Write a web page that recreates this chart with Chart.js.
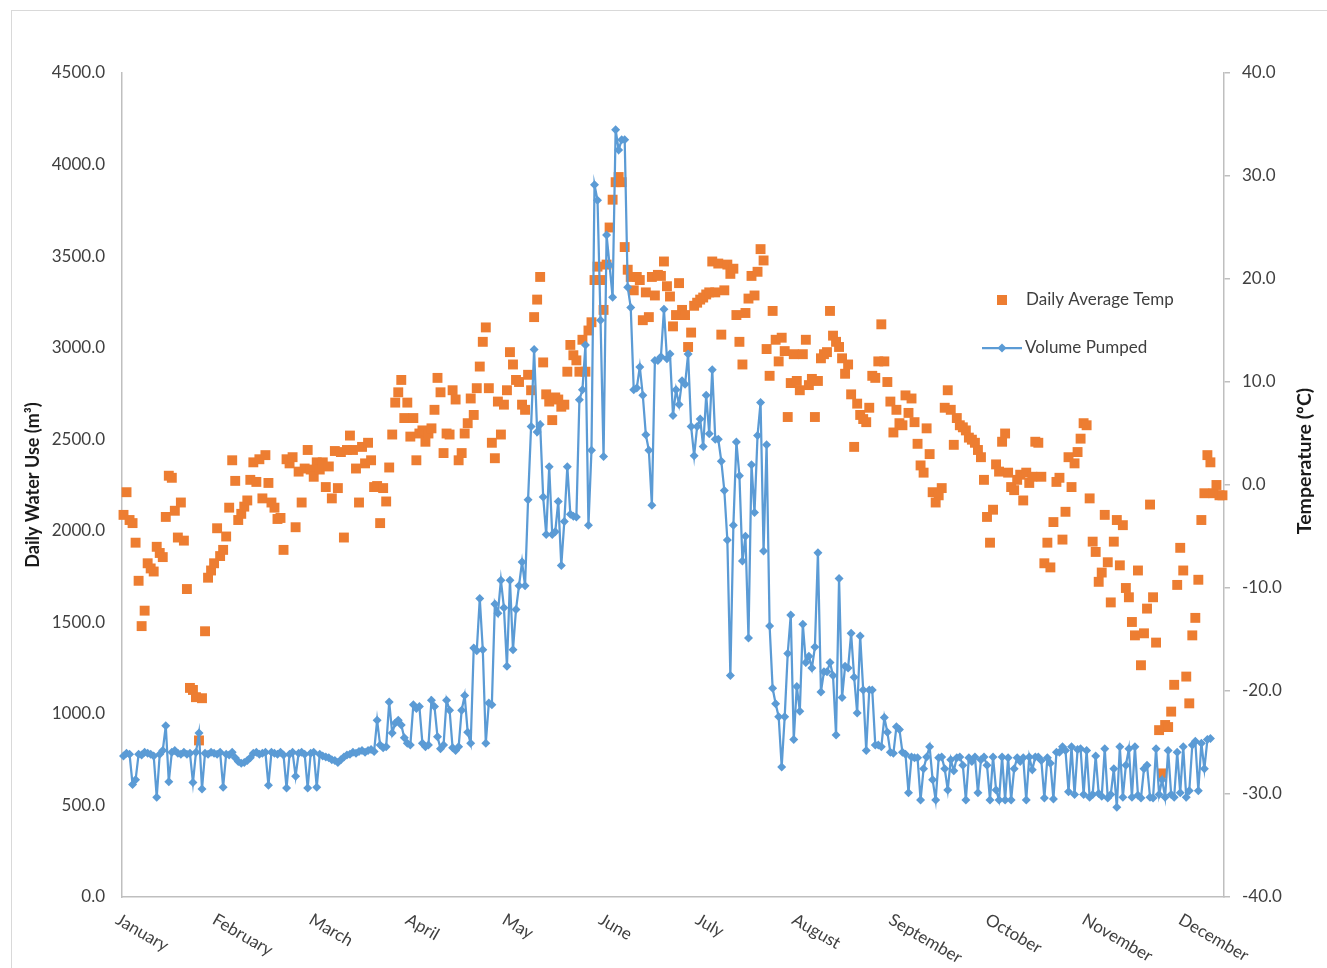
<!DOCTYPE html>
<html>
<head>
<meta charset="utf-8">
<script src="https://cdn.jsdelivr.net/npm/chart.js@4.4.0/dist/chart.umd.min.js"></script>
<style>
  html, body { margin: 0; padding: 0; background: #fff; }
  #waterChart { display: block; }
</style>
</head>
<body>
<canvas id="waterChart" width="1327" height="968"></canvas>
<script>
// month names shown under the axis, one every 32 days
const monthNames = ['January', 'February', 'March', 'April', 'May', 'June',
  'July', 'August', 'September', 'October', 'November', 'December'];
const labelEvery = 32;

// daily average temperature (degC), one per day
const tempValues = [
  /* 0 */ -2.9, -0.7, -3.4, -3.7, -5.6, -9.3, -13.7, -12.2, -7.6, -8.1,
  /* 10 */ -8.4, -6.0, -6.6, -7.0, -3.1, 0.9, 0.7, -2.5, -5.1, -1.7,
  /* 20 */ -5.4, -10.1, -19.7, -19.9, -20.6, -24.8, -20.7, -14.2, -9.0, -8.3,
  /* 30 */ -7.6, -4.2, -6.9, -6.3, -5.0, -2.2, 2.4, 0.4, -3.4, -2.8,
  /* 40 */ -2.1, -1.5, 0.5, 2.2, 0.3, 2.5, -1.3, 2.9, 0.2, -1.7,
  /* 50 */ -2.2, -3.3, -3.2, -6.3, 2.5, 2.1, 2.7, -4.1, 1.3, -1.7,
  /* 60 */ 1.6, 3.4, 1.5, 0.8, 2.2, 1.5, 2.2, -0.2, 1.8, -1.3,
  /* 70 */ 3.3, -0.3, 3.2, -5.1, 3.4, 4.8, 3.4, 1.6, -1.7, 3.7,
  /* 80 */ 2.1, 4.1, 2.4, -0.2, -0.1, -3.7, -0.3, -1.6, 1.7, 4.9,
  /* 90 */ 8.0, 9.0, 10.2, 6.5, 8.0, 4.7, 6.5, 2.4, 5.0, 5.3,
  /* 100 */ 4.2, 5.0, 5.5, 7.3, 10.4, 9.0, 3.1, 5.0, 4.9, 9.2,
  /* 110 */ 8.3, 2.4, 3.1, 5.0, 6.0, 8.4, 6.8, 9.4, 11.5, 13.9,
  /* 120 */ 15.3, 9.4, 4.1, 2.6, 8.1, 4.9, 7.8, 9.2, 12.9, 11.7,
  /* 130 */ 10.2, 10.0, 7.8, 7.3, 10.7, 9.2, 16.3, 18.0, 20.2, 11.9,
  /* 140 */ 8.8, 8.1, 6.3, 8.5, 8.3, 7.6, 7.8, 11.0, 13.6, 12.6,
  /* 150 */ 12.1, 11.0, 14.1, 11.0, 15.0, 15.8, 19.9, 21.2, 19.9, 17.0,
  /* 160 */ 21.4, 25.0, 27.7, 29.4, 29.9, 29.4, 23.1, 20.9, 20.2, 18.9,
  /* 170 */ 20.2, 19.9, 16.0, 18.7, 16.3, 20.2, 18.4, 20.4, 20.3, 21.7,
  /* 180 */ 19.3, 18.3, 15.4, 16.5, 19.6, 17.0, 16.5, 13.4, 14.8, 17.4,
  /* 190 */ 17.7, 18.0, 18.2, 18.5, 18.7, 21.7, 18.7, 21.5, 14.6, 18.9,
  /* 200 */ 21.4, 20.5, 21.0, 16.5, 13.9, 11.7, 16.7, 18.1, 20.3, 18.4,
  /* 210 */ 20.7, 22.9, 21.8, 13.2, 10.6, 16.9, 14.1, 12.0, 14.3, 13.0,
  /* 220 */ 6.6, 9.9, 12.7, 10.1, 9.2, 12.7, 14.1, 9.7, 10.3, 6.6,
  /* 230 */ 10.1, 12.3, 12.7, 12.9, 16.9, 14.5, 13.9, 13.4, 12.3, 10.8,
  /* 240 */ 11.7, 8.8, 3.7, 7.9, 6.8, 6.4, 6.1, 7.5, 10.6, 10.4,
  /* 250 */ 12.0, 15.6, 12.0, 10.0, 8.1, 5.1, 7.3, 6.0, 5.8, 8.7,
  /* 260 */ 7.0, 8.4, 6.1, 4.0, 1.9, 1.2, 5.5, 3.0, -0.7, -1.7,
  /* 270 */ -1.0, -0.3, 7.5, 9.2, 7.3, 3.9, 6.5, 5.8, 5.6, 5.3,
  /* 280 */ 4.6, 4.4, 4.1, 3.4, 2.7, 0.5, -3.1, -5.6, -2.4, 2.0,
  /* 290 */ 1.3, 4.2, 5.0, 1.2, -0.2, -0.5, 0.5, 1.0, -1.5, 1.2,
  /* 300 */ 0.2, 0.8, 4.2, 4.1, 0.8, -7.6, -5.6, -8.0, -3.6, 0.3,
  /* 310 */ 0.7, -5.3, -2.6, 2.7, -0.2, 2.1, 3.2, 4.5, 6.0, 5.8,
  /* 320 */ -1.3, -5.5, -6.5, -9.4, -8.5, -2.9, -7.5, -11.4, -5.5, -3.4,
  /* 330 */ -7.8, -3.9, -10.0, -10.9, -13.3, -14.6, -8.3, -17.5, -14.4, -12.0,
  /* 340 */ -1.9, -10.9, -15.3, -23.8, -28.0, -23.3, -23.5, -22.0, -19.4, -9.7,
  /* 350 */ -6.1, -8.3, -18.6, -21.2, -14.6, -12.9, -9.2, -3.4, -0.8, 2.9,
  /* 360 */ 2.2, -0.8, 0.0, -1.0, -1.0
];

// daily volume pumped (m3), last days not recorded
const waterValues = [
  /* 0 */ 770, 785, 780, 615, 640, 780, 775, 790, 785, 780,
  /* 10 */ 770, 545, 780, 800, 935, 630, 790, 800, 785, 780,
  /* 20 */ 790, 780, 785, 625, 790, 895, 590, 785, 780, 790,
  /* 30 */ 785, 780, 790, 600, 780, 775, 790, 760, 740, 730,
  /* 40 */ 735, 745, 760, 785, 790, 780, 785, 790, 610, 790,
  /* 50 */ 785, 780, 790, 775, 595, 780, 790, 660, 785, 790,
  /* 60 */ 780, 595, 785, 790, 600, 780, 770, 765, 760, 750,
  /* 70 */ 745, 735, 750, 765, 775, 780, 790, 785, 795, 800,
  /* 80 */ 790, 800, 805, 795, 965, 830, 815, 820, 1065, 895,
  /* 90 */ 950, 965, 940, 870, 840, 830, 1050, 1030, 1040, 840,
  /* 100 */ 820, 830, 1075, 1040, 875, 810, 830, 1075, 1020, 815,
  /* 110 */ 800, 820, 1020, 1100, 900, 840, 1360, 1345, 1630, 1350,
  /* 120 */ 840, 1060, 1050, 1600, 1550, 1730, 1580, 1260, 1730, 1350,
  /* 130 */ 1570, 1700, 1830, 1700, 2170, 2570, 2990, 2540, 2580, 2185,
  /* 140 */ 1980, 2350, 1980, 1995, 2160, 1810, 2050, 2350, 2090, 2080,
  /* 150 */ 2075, 2715, 2770, 3015, 2030, 2440, 3890, 3805, 3150, 2405,
  /* 160 */ 3615, 3450, 3275, 4190, 4080, 4135, 4135, 3330, 3220, 2770,
  /* 170 */ 2780, 2895, 2740, 2525, 2440, 2140, 2930, 2930, 2950, 3210,
  /* 180 */ 2940, 2965, 2630, 2770, 2690, 2820, 2800, 2965, 2570, 2410,
  /* 190 */ 2570, 2610, 2460, 2740, 2530, 2880, 2500, 2500, 2380, 2220,
  /* 200 */ 1950, 1210, 2030, 2485, 2300, 1835, 1970, 1415, 2360, 2100,
  /* 210 */ 2520, 2700, 1890, 2470, 1480, 1140, 1055, 985, 710, 985,
  /* 220 */ 1330, 1540, 860, 1150, 1015, 1490, 1280, 1315, 1250, 1365,
  /* 230 */ 1880, 1120, 1230, 1230, 1280, 1210, 885, 1740, 1090, 1260,
  /* 240 */ 1250, 1440, 1200, 1005, 1425, 1130, 800, 1130, 1130, 830,
  /* 250 */ 830, 820, 980, 900, 790, 785, 930, 915, 790, 780,
  /* 260 */ 570, 765, 760, 760, 530, 700, 765, 820, 640, 530,
  /* 270 */ 760, 765, 700, 585, 750, 690, 760, 765, 720, 530,
  /* 280 */ 760, 740, 765, 570, 750, 765, 720, 530, 765, 585,
  /* 290 */ 530, 765, 530, 760, 530, 700, 760, 740, 760, 530,
  /* 300 */ 765, 695, 765, 765, 745, 540, 760, 730, 535, 790,
  /* 310 */ 790, 820, 800, 575, 820, 560, 805, 810, 560, 800,
  /* 320 */ 545, 560, 770, 565, 550, 810, 540, 560, 700, 490,
  /* 330 */ 820, 545, 720, 810, 545, 820, 555, 540, 700, 720,
  /* 340 */ 545, 540, 810, 560, 640, 545, 800, 560, 545, 790,
  /* 350 */ 570, 820, 545, 580, 830, 850, 580, 840, 700, 860,
  /* 360 */ 865, null, null, null, null
];

const dayLabels = tempValues.map((v, i) => String(i + 1));

const ORANGE = '#ED7D31';
const BLUE = '#5B9BD5';
const AXIS_GREY = '#bfbfbf';
const TEXT_GREY = '#404040';
const FONT = 'Lato, "Open Sans", sans-serif';

const extras = {
  id: 'extras',
  beforeDraw(chart) {
    const ctx = chart.ctx;
    ctx.save();
    ctx.fillStyle = '#ffffff';
    ctx.fillRect(0, 0, chart.width, chart.height);
    ctx.strokeStyle = '#d9d9d9';
    ctx.lineWidth = 1;
    ctx.strokeRect(11.5, 10.5, chart.width + 20, chart.height + 20);
    ctx.restore();
  },
  afterDraw(chart) {
    const ctx = chart.ctx;
    const xs = chart.scales.x;

    // rotated month labels
    ctx.save();
    ctx.font = '17px ' + FONT;
    ctx.fillStyle = TEXT_GREY;
    ctx.textAlign = 'left';
    ctx.textBaseline = 'top';
    monthNames.forEach((m, k) => {
      const px = xs.getPixelForValue(k * labelEvery);
      ctx.save();
      ctx.translate(px - 2, 911);
      ctx.rotate(Math.PI / 6);
      ctx.fillText(m, 0, 0);
      ctx.restore();
    });
    ctx.restore();

    // axis titles
    ctx.save();
    ctx.fillStyle = '#1a1a1a';
    ctx.textAlign = 'center';
    ctx.textBaseline = 'middle';
    ctx.save();
    ctx.font = 'bold 18px ' + FONT;
    ctx.translate(33, 485);
    ctx.rotate(-Math.PI / 2);
    ctx.fillText('Daily Water Use (m³)', 0, 0);
    ctx.restore();
    ctx.save();
    ctx.font = 'bold 19.5px ' + FONT;
    ctx.translate(1305, 461);
    ctx.rotate(-Math.PI / 2);
    ctx.fillText('Temperature (ºC)', 0, 0);
    ctx.restore();
    ctx.restore();

    // legend
    ctx.save();
    ctx.fillStyle = ORANGE;
    ctx.fillRect(997, 295, 10, 10);
    ctx.strokeStyle = BLUE;
    ctx.lineWidth = 2.25;
    ctx.beginPath();
    ctx.moveTo(982, 348);
    ctx.lineTo(1022, 348);
    ctx.stroke();
    ctx.fillStyle = BLUE;
    ctx.beginPath();
    ctx.moveTo(1002, 343.5);
    ctx.lineTo(1006.5, 348);
    ctx.lineTo(1002, 352.5);
    ctx.lineTo(997.5, 348);
    ctx.closePath();
    ctx.fill();
    ctx.font = '17px ' + FONT;
    ctx.fillStyle = TEXT_GREY;
    ctx.textAlign = 'left';
    ctx.textBaseline = 'middle';
    ctx.fillText('Daily Average Temp', 1026, 300);
    ctx.fillText('Volume Pumped', 1025, 348);
    ctx.restore();
  }
};

new Chart(document.getElementById('waterChart'), {
  type: 'line',
  data: {
    labels: dayLabels,
    datasets: [
      {
        label: 'Daily Average Temp',
        data: tempValues,
        yAxisID: 'y1',
        showLine: false,
        pointStyle: 'rect',
        pointRadius: 7,
        pointBorderWidth: 0,
        backgroundColor: ORANGE,
        borderColor: ORANGE,
        order: 2
      },
      {
        label: 'Volume Pumped',
        data: waterValues,
        yAxisID: 'y',
        borderColor: BLUE,
        backgroundColor: BLUE,
        borderWidth: 2.25,
        pointStyle: 'rectRot',
        pointRadius: 4.5,
        pointBorderWidth: 0,
        tension: 0,
        fill: false,
        order: 1
      }
    ]
  },
  options: {
    responsive: false,
    devicePixelRatio: 1,
    animation: false,
    events: [],
    layout: { padding: { top: 73, left: 0, right: 0, bottom: 0 } },
    plugins: {
      legend: { display: false },
      tooltip: { enabled: false }
    },
    scales: {
      x: {
        type: 'category',
        offset: true,
        grid: { display: false, drawTicks: false },
        border: { display: true, color: AXIS_GREY, width: 1.5 },
        ticks: { display: false },
        afterFit(scale) { scale.height = 71; }
      },
      y: {
        position: 'left',
        min: 0,
        max: 4500,
        grid: { display: false, drawTicks: false },
        border: { display: true, color: AXIS_GREY, width: 1.5 },
        ticks: {
          stepSize: 500,
          padding: 17,
          color: TEXT_GREY,
          font: { family: FONT, size: 17 },
          callback: v => v.toFixed(1)
        },
        afterFit(scale) { scale.width = 122; }
      },
      y1: {
        position: 'right',
        min: -40,
        max: 40,
        grid: { display: true, drawOnChartArea: false, drawTicks: true, tickLength: 6, color: AXIS_GREY, lineWidth: 1.5 },
        border: { display: true, color: AXIS_GREY, width: 1.5 },
        ticks: {
          stepSize: 10,
          padding: 12,
          color: TEXT_GREY,
          font: { family: FONT, size: 17 },
          callback: v => v.toFixed(1)
        },
        afterFit(scale) { scale.width = 103; }
      }
    }
  },
  plugins: [extras]
});
</script>
</body>
</html>
